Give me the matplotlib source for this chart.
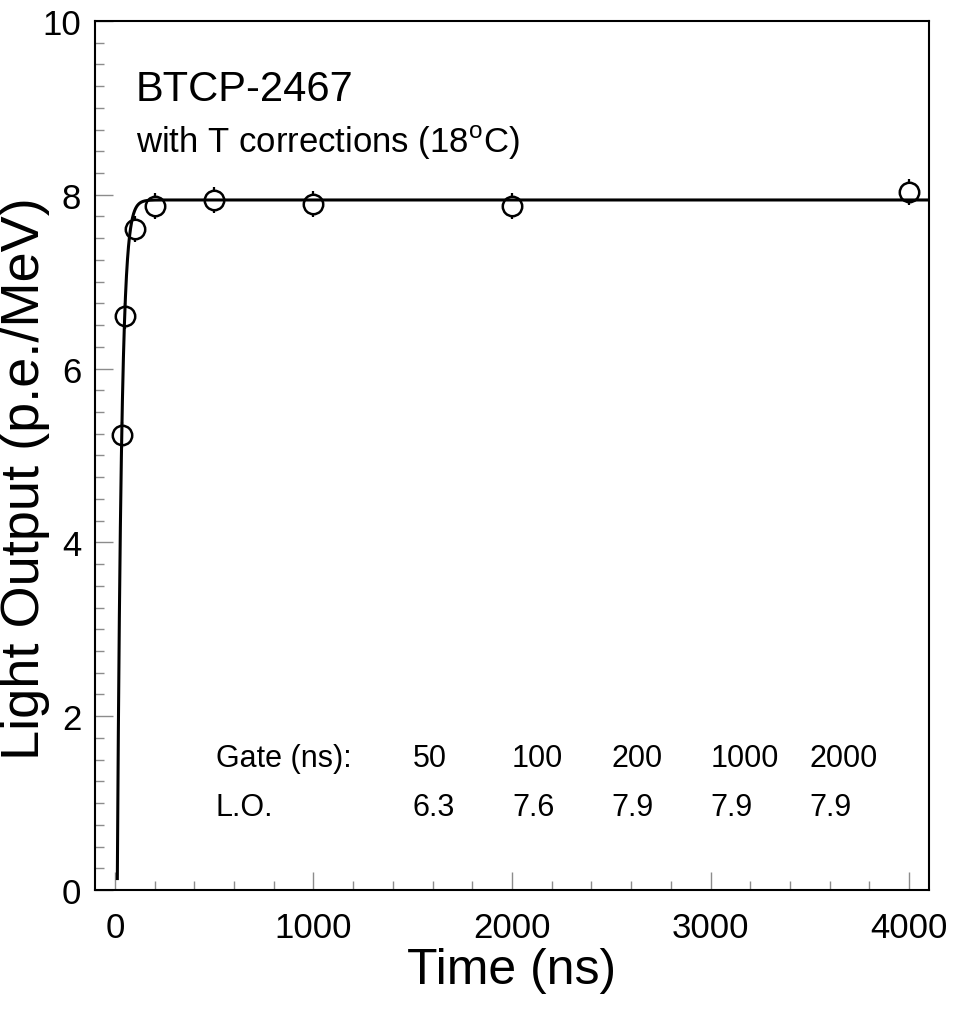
import numpy as np
import matplotlib
matplotlib.use("Agg")
import matplotlib.pyplot as plt
from matplotlib.ticker import MultipleLocator

plt.rcParams["font.family"] = ["Liberation Sans", "DejaVu Sans"]
plt.rcParams["mathtext.fontset"] = "custom"
plt.rcParams["mathtext.rm"] = "Liberation Sans"

# measured points
time_ns = [35, 50, 100, 200, 500, 1000, 2000, 4000]
light_output = [5.24, 6.61, 7.61, 7.87, 7.94, 7.89, 7.87, 8.03]
light_err = [0.15, 0.15, 0.15, 0.15, 0.15, 0.15, 0.15, 0.15]

# fit: LO(t) = A * (1 - exp(-(t - t0) / tau))
fit_A = 7.94
fit_t0 = 12.0
fit_tau = 21.0

# table in the lower part
gate_ns = ["50", "100", "200", "1000", "2000"]
gate_lo = ["6.3", "7.6", "7.9", "7.9", "7.9"]

fig = plt.figure(figsize=(9.54, 10.12), dpi=100)
ax = fig.add_axes([0.0996, 0.1196, 0.8742, 0.8587])

# error bars first, hollow-looking circles on top, then the fit curve
ax.errorbar(time_ns, light_output, yerr=light_err, fmt="none", ecolor="black",
            elinewidth=1.6, capsize=0, zorder=2)
ax.plot(time_ns, light_output, "o", ms=14, mfc="white", mec="black", mew=1.8, zorder=3)

t = np.linspace(fit_t0 + 0.35, 4100, 4000)
ax.plot(t, fit_A * (1 - np.exp(-(t - fit_t0) / fit_tau)), color="black", lw=2.2, zorder=4)

ax.set_xlim(-100, 4100)
ax.set_ylim(0, 10)
ax.xaxis.set_major_locator(MultipleLocator(1000))
ax.xaxis.set_minor_locator(MultipleLocator(200))
ax.yaxis.set_major_locator(MultipleLocator(2))
ax.yaxis.set_minor_locator(MultipleLocator(0.25))
ax.tick_params(which="both", direction="in", top=False, right=False,
               color="0.55", width=1.0, labelsize=25)
ax.tick_params(which="major", length=13)
ax.tick_params(which="minor", length=6.5)
ax.tick_params(axis="x", pad=15)
ax.tick_params(axis="y", pad=10)
for s in ax.spines.values():
    s.set_linewidth(1.5)

ax.set_xlabel("Time (ns)", fontsize=36)
ax.xaxis.set_label_coords(0.5, -0.066)
ax.set_ylabel("Light Output (p.e./MeV)", fontsize=39)
ax.yaxis.set_label_coords(-0.054, 0.475)

ax.text(106, 9.22, "BTCP-2467", fontsize=30, va="center", ha="left")
ax.text(106, 8.61, r"with T corrections (18$^{\rm o}$C)", fontsize=25, va="center", ha="left")

ax.text(508, 1.52, "Gate (ns):", fontsize=22, va="center", ha="left")
ax.text(508, 0.95, "L.O.", fontsize=22, va="center", ha="left")
for i, (g, lo) in enumerate(zip(gate_ns, gate_lo)):
    ax.text(1500 + 500 * i, 1.52, g, fontsize=22, va="center", ha="left")
    ax.text(1500 + 500 * i, 0.95, lo, fontsize=22, va="center", ha="left")

fig.savefig("out.png", dpi=100)
